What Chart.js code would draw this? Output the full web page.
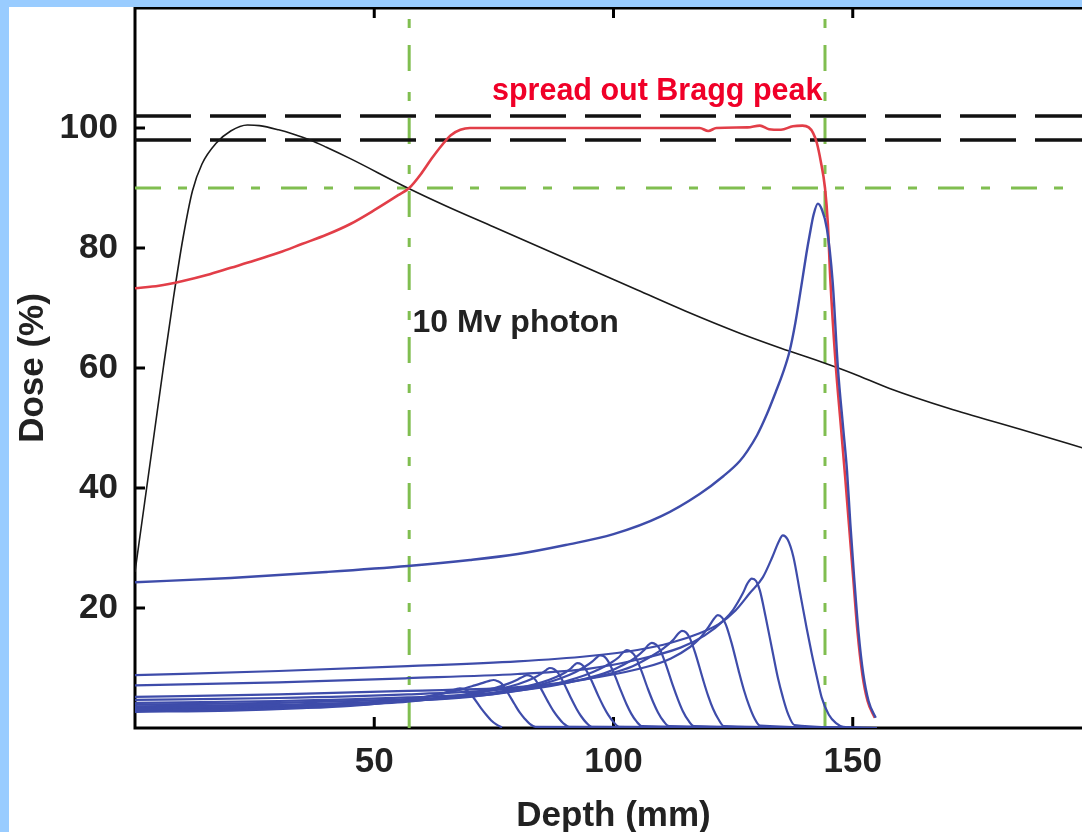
<!DOCTYPE html>
<html><head><meta charset="utf-8">
<script src="https://cdn.jsdelivr.net/npm/chart.js@4.4.1/dist/chart.umd.min.js"></script>
<style>
html,body{margin:0;padding:0;overflow:hidden;background:#99ccff;width:1082px;height:832px;}
#wrap{position:absolute;left:9px;top:7px;width:1100px;height:830px;background:#fff;}
canvas{display:block;}
</style></head><body>
<div id="wrap"><canvas id="c" width="1100" height="830"></canvas></div>
<script>
// ---- axis settings ----
const xTicks = [50, 100, 150];
const yTicks = [20, 40, 60, 80, 100];
const xTitle = 'Depth (mm)';
const yTitle = 'Dose (%)';
const sobpLabel = 'spread out Bragg peak';
const photonLabel = '10 Mv photon';

// ---- reference lines ----
const toleranceLevels = [98, 102];
const level90 = [90];
const depthMarks = [57.3, 144.2];

// ---- 10 MV photon depth dose ----
const photonX = [0, 2, 4, 6, 8, 10, 12, 14, 17, 20, 23.5, 26, 30, 33, 36.6, 40, 45, 57, 65, 75, 85, 95, 105, 115, 126.4, 135, 144.2, 150, 157.7, 170, 185, 200];
const photonY = [26, 37.5, 49, 60.5, 71.5, 81.5, 89.5, 94, 97.5, 99.5, 100.5, 100.4, 99.7, 99.0, 98, 96.8, 94.9, 90, 87, 83.5, 80, 76.5, 73, 69.5, 65.8, 63.3, 60.8, 59.1, 56.6, 53.3, 49.8, 46.2];

// ---- spread out Bragg peak ----
const sobpX = [0, 5, 10, 15, 20, 25, 30, 35, 40, 45, 50, 55, 57.3, 60, 62, 64, 66, 68, 70, 80, 90, 100, 110, 118, 119.8, 121.5, 128, 130.6, 132.5, 135, 137.5, 139.5, 140.8, 141.7, 142.5, 143.3, 144.2, 144.8, 145.3, 146.4, 147.5, 148.4, 149.2, 150.1, 151, 152, 153.1, 154.6];
const sobpY = [73.3, 73.7, 74.5, 75.5, 76.7, 77.9, 79.2, 80.7, 82.2, 84, 86.3, 88.8, 90, 92.6, 94.9, 97, 98.8, 99.7, 100, 100, 100, 100, 100, 100, 99.5, 100, 100.1, 100.4, 99.8, 99.7, 100.3, 100.4, 100.1, 99.2, 97.5, 94.5, 90, 84, 75, 61, 50.5, 42, 34, 25, 16, 9, 4.5, 1.7];

// ---- pristine Bragg peak (full energy) ----
const braggX = [0, 20, 40, 57, 70, 80, 90, 100, 110, 118, 123, 126.4, 128, 130, 132, 134, 135.5, 136.8, 138, 139.4, 140.3, 141, 141.8, 142.7, 143.5, 144.6, 145.8, 146.9, 148, 148.8, 149.5, 150.3, 151.2, 152.2, 153.3, 154.8];
const braggY = [24.3, 25, 26, 27, 28, 29, 30.5, 32.3, 35.3, 39, 42, 44.5, 46.2, 48.8, 52.2, 56.2, 59.4, 62.8, 67.5, 74.4, 79, 82.2, 85.5, 87.4, 86.5, 83.2, 74.4, 60, 50, 42.9, 34, 25, 16, 9, 4.5, 1.7];

// ---- weighted pristine peaks (A deepest ... L shallowest) ----
const peakAX = [0, 30, 57, 80, 95, 105, 112, 118, 122, 125.5, 128.5, 131.2, 133.2, 134.5, 135.4, 136.4, 137.6, 139, 140.4, 141.4, 142.5, 143.5, 145, 146.5, 148, 155];
const peakAY = [8.8, 9.5, 10.3, 11.1, 12, 13, 14.2, 15.8, 17.3, 19.6, 22.5, 25.1, 28.5, 31, 32.1, 31.4, 28.5, 22.5, 16.5, 12.5, 8.5, 5.1, 2.2, 0.8, 0.2, 0];
const peakBX = [0, 30, 57, 80, 95, 104, 114, 119, 123, 125, 127, 128, 128.9, 129.8, 130.6, 131.8, 133.3, 134.4, 135.4, 136.5, 137.8, 155];
const peakBY = [7.1, 7.6, 8.3, 9.0, 9.9, 11.2, 13.4, 15.4, 17.9, 19.7, 22.4, 24.1, 24.9, 24.5, 22.9, 18.5, 12.5, 8.2, 5.1, 2.3, 0.5, 0];
const peakCX = [0, 30, 57, 80, 97, 107, 112, 116, 118, 120, 121, 121.8, 122.7, 123.5, 124.7, 126.2, 127.3, 128.3, 129.4, 130.6, 155];
const peakCY = [5.2, 5.6, 6.2, 6.8, 8.5, 10.2, 11.6, 13.5, 14.9, 17, 18.2, 18.8, 18.4, 17.2, 14.1, 9.4, 6.2, 3.8, 1.7, 0.4, 0];
const peakDX = [0, 30, 57, 75, 90, 99, 104, 108, 110.5, 112.5, 113.5, 114.3, 115.2, 116, 117.2, 118.7, 119.8, 120.8, 121.9, 123.1, 155];
const peakDY = [4.7, 5.0, 5.6, 6.3, 7.5, 9.0, 10.3, 12.0, 13.3, 14.7, 15.7, 16.2, 15.9, 14.9, 12.2, 8.1, 5.3, 3.2, 1.5, 0.3, 0];
const peakEX = [0, 30, 57, 75, 87, 94, 99, 102, 104.5, 106.3, 107.2, 108, 108.9, 109.7, 110.9, 112.4, 113.5, 114.5, 115.6, 116.8, 155];
const peakEY = [4.2, 4.5, 5.1, 5.8, 7.0, 8.2, 9.4, 10.5, 11.7, 12.9, 13.8, 14.2, 13.9, 13.1, 10.7, 7.1, 4.7, 2.8, 1.3, 0.3, 0];
const peakFX = [0, 30, 57, 72, 83, 90, 94, 97, 99.3, 101.1, 102, 102.8, 103.7, 104.5, 105.7, 107.2, 108.3, 109.3, 110.4, 111.6, 155];
const peakFY = [3.9, 4.2, 4.8, 5.4, 6.6, 7.8, 8.8, 9.8, 10.8, 11.8, 12.6, 13.0, 12.7, 12.0, 9.8, 6.5, 4.3, 2.6, 1.2, 0.3, 0];
const peakGX = [0, 30, 55, 70, 79, 85, 89, 92, 94, 95.6, 96.4, 97.2, 98.1, 98.9, 100.1, 101.6, 102.7, 103.7, 104.8, 106, 155];
const peakGY = [3.6, 3.9, 4.5, 5.2, 6.2, 7.3, 8.3, 9.3, 10.2, 11.1, 11.7, 12.1, 11.9, 11.1, 9.1, 6.1, 4.0, 2.4, 1.1, 0.3, 0];
const peakHX = [0, 30, 52, 66, 75, 81, 85, 88, 90, 91.2, 91.8, 92.4, 93.3, 94.1, 95.3, 96.8, 97.9, 98.9, 100, 101.2, 155];
const peakHY = [3.4, 3.7, 4.3, 5.0, 5.9, 6.8, 7.6, 8.5, 9.3, 10.0, 10.5, 10.8, 10.6, 9.9, 8.1, 5.4, 3.6, 2.2, 1.0, 0.2, 0];
const peakIX = [0, 30, 48, 61, 70, 76, 80, 83, 85, 86, 86.7, 87.6, 88.4, 89.6, 91.1, 92.2, 93.2, 94.3, 95.5, 155];
const peakIY = [3.2, 3.5, 4.1, 4.8, 5.6, 6.5, 7.3, 8.2, 9.1, 9.7, 10.0, 9.8, 9.2, 7.5, 5.0, 3.3, 2.0, 0.9, 0.2, 0];
const peakJX = [0, 30, 45, 57, 65, 71, 75, 78, 80, 81.2, 81.9, 82.8, 83.6, 84.8, 86.3, 87.4, 88.4, 89.5, 90.7, 155];
const peakJY = [3.0, 3.3, 3.8, 4.4, 5.1, 5.9, 6.6, 7.4, 8.1, 8.6, 8.8, 8.6, 8.1, 6.6, 4.4, 2.9, 1.8, 0.8, 0.2, 0];
const peakKX = [0, 25, 40, 51, 59, 64, 68, 71, 73, 74.2, 74.9, 75.8, 76.6, 77.8, 79.3, 80.4, 81.4, 82.5, 83.7, 155];
const peakKY = [2.9, 3.2, 3.7, 4.3, 5.0, 5.7, 6.4, 7.1, 7.6, 7.9, 8.0, 7.8, 7.4, 6.0, 4.0, 2.6, 1.6, 0.7, 0.2, 0];
const peakLX = [0, 20, 35, 45, 52, 57, 61, 64, 66, 67.2, 67.9, 68.8, 69.6, 70.8, 72.3, 73.4, 74.4, 75.5, 76.7];
const peakLY = [2.7, 2.9, 3.3, 3.7, 4.2, 4.7, 5.2, 5.7, 6.2, 6.5, 6.6, 6.5, 6.1, 5.0, 3.3, 2.2, 1.3, 0.6, 0.1];

const FONT = "'Liberation Sans', Arial, Helvetica, sans-serif";
const pts = (xs, ys) => xs.map((x, i) => ({x: x, y: ys[i]}));
const BLUE = 'rgb(62,76,170)';
const GREEN = 'rgb(128,190,80)';
const greenDash = [26, 17, 9, 21];

const datasets = [];
level90.forEach(v => datasets.push({data: pts([0, 200], [v, v]), borderColor: GREEN, borderWidth: 3, borderDash: greenDash, order: 20}));
depthMarks.forEach(d => datasets.push({data: pts([d, d], [0, 120]), borderColor: GREEN, borderWidth: 3, borderDash: greenDash, order: 20}));
toleranceLevels.forEach(v => datasets.push({data: pts([0, 200], [v, v]), borderColor: '#111', borderWidth: 3.5, borderDash: [56, 19], order: 19}));
datasets.push({data: pts(photonX, photonY), borderColor: '#1a1a1a', borderWidth: 1.6, cubicInterpolationMode: 'monotone', order: 18});
datasets.push({data: pts(sobpX, sobpY), borderColor: 'rgb(226,62,72)', borderWidth: 2.6, cubicInterpolationMode: 'monotone', order: 17});
[[peakLX, peakLY], [peakKX, peakKY], [peakJX, peakJY], [peakIX, peakIY], [peakHX, peakHY], [peakGX, peakGY],
 [peakFX, peakFY], [peakEX, peakEY], [peakDX, peakDY], [peakCX, peakCY], [peakBX, peakBY], [peakAX, peakAY]]
  .forEach(p => datasets.push({data: pts(p[0], p[1]), borderColor: BLUE, borderWidth: 2.2, cubicInterpolationMode: 'monotone', order: 16}));
datasets.push({data: pts(braggX, braggY), borderColor: BLUE, borderWidth: 2.4, cubicInterpolationMode: 'monotone', order: 15});

const framePlugin = {
  id: 'frame',
  beforeDatasetsDraw(chart) {
    const {ctx, chartArea: a, scales: {x, y}} = chart;
    ctx.save();
    ctx.strokeStyle = '#000';
    ctx.lineWidth = 3;
    ctx.strokeRect(a.left, a.top, a.right - a.left, a.bottom - a.top);
    ctx.beginPath();
    xTicks.forEach(v => {
      const px = x.getPixelForValue(v);
      ctx.moveTo(px, a.bottom); ctx.lineTo(px, a.bottom - 11);
      ctx.moveTo(px, a.top); ctx.lineTo(px, a.top + 10);
    });
    yTicks.forEach(v => {
      const py = y.getPixelForValue(v);
      ctx.moveTo(a.left, py); ctx.lineTo(a.left + 10, py);
      ctx.moveTo(a.right, py); ctx.lineTo(a.right - 10, py);
    });
    ctx.stroke();
    ctx.restore();
  },
  afterDatasetsDraw(chart) {
    const {ctx, scales: {x, y}} = chart;
    ctx.save();
    ctx.textBaseline = 'alphabetic';
    ctx.textAlign = 'left';
    ctx.fillStyle = 'rgb(240,0,40)';
    ctx.font = "bold 30.5px " + FONT;
    ctx.fillText(sobpLabel, x.getPixelForValue(74.6), y.getPixelForValue(104.6));
    ctx.fillStyle = '#222';
    ctx.font = "bold 32px " + FONT;
    ctx.fillText(photonLabel, x.getPixelForValue(58.0), y.getPixelForValue(66.0));
    ctx.restore();
  }
};

const tickFont = {family: FONT, size: 35, weight: 'bold'};
new Chart(document.getElementById('c'), {
  type: 'line',
  data: {datasets: datasets},
  options: {
    responsive: false,
    animation: false,
    devicePixelRatio: 1,
    layout: {padding: {top: 1, right: 17, bottom: 0, left: 0}},
    elements: {point: {radius: 0}, line: {fill: false}},
    plugins: {legend: {display: false}, tooltip: {enabled: false}},
    scales: {
      x: {
        type: 'linear', min: 0, max: 200,
        ticks: {stepSize: 50, autoSkip: false, maxRotation: 0, padding: 13, color: '#222', font: tickFont,
          callback: v => xTicks.includes(v) ? String(v) : ''},
        grid: {display: false, drawTicks: false},
        border: {display: false},
        title: {display: true, text: xTitle, color: '#222', font: {family: FONT, size: 35, weight: 'bold'}, padding: {top: 0, bottom: 0}},
        afterFit(s) { s.height = 109; s.paddingLeft = 0; s.paddingRight = 0; }
      },
      y: {
        type: 'linear', min: 0, max: 120,
        ticks: {stepSize: 20, autoSkip: false, padding: 17, color: '#222', font: tickFont,
          callback: v => yTicks.includes(v) ? String(v) : ''},
        grid: {display: false, drawTicks: false},
        border: {display: false},
        title: {display: true, text: yTitle, color: '#222', font: {family: FONT, size: 35, weight: 'bold'}, padding: {top: 3, bottom: 0}},
        afterFit(s) { s.width = 126; s.paddingTop = 0; s.paddingBottom = 0; }
      }
    }
  },
  plugins: [framePlugin]
});
</script></body></html>
